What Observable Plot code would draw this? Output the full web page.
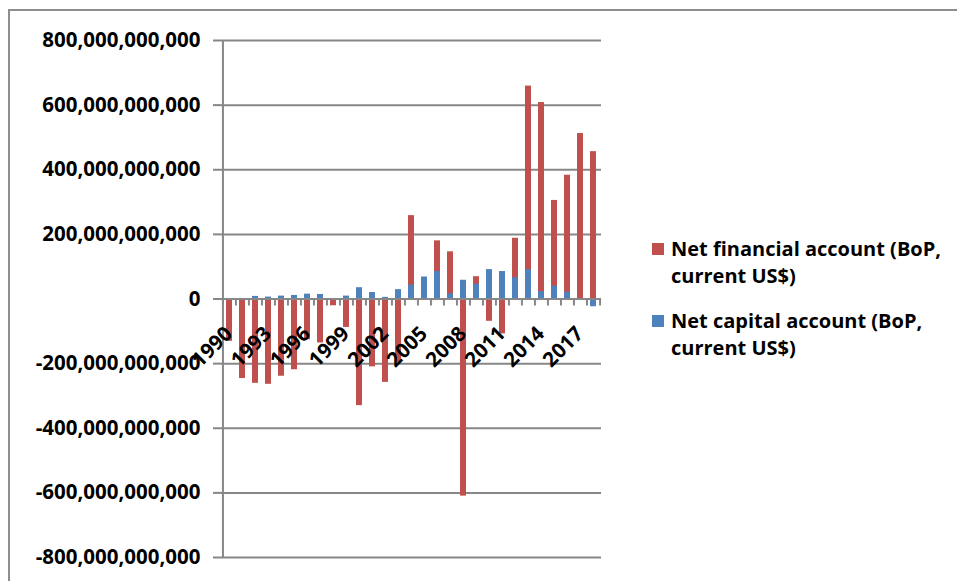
<!DOCTYPE html>
<html>
<head>
<meta charset="utf-8">
<script src="https://cdn.jsdelivr.net/npm/d3@7"></script>
<script src="https://cdn.jsdelivr.net/npm/@observablehq/plot@0.6"></script>
<style>
  body { margin: 0; background: #fff; }
  #wrap { position: relative; width: 957px; height: 581px; overflow: hidden; font-family: "Open Sans", sans-serif; }
  #border { position: absolute; left: 8px; top: 9px; width: 1200px; height: 1200px;
            border-left: 2px solid #8e8e8e; border-top: 2px solid #8e8e8e; }
  #chart { position: absolute; left: 0; top: 0; }
  .swatch { position: absolute; left: 652px; width: 12px; height: 12px; }
  .entry { position: absolute; left: 671px; font-size: 20px; font-weight: 700; line-height: 27.5px; color: #000; white-space: nowrap; }
</style>
</head>
<body>
<div id="wrap">
  <div id="border"></div>
  <div id="chart"></div>
  <div id="legend"></div>
</div>
<script>
// Balance of payments, 1990–2018, in billions of current US$
const years = [1990, 1991, 1992, 1993, 1994, 1995, 1996, 1997, 1998, 1999,
               2000, 2001, 2002, 2003, 2004, 2005, 2006, 2007, 2008, 2009,
               2010, 2011, 2012, 2013, 2014, 2015, 2016, 2017, 2018];

const netFinancialBn = [-131, -246, -261, -264, -239, -219, -126, -136, -21, -88,
                        -330, -210, -258, -196, 258, 30, 180, 146, -610, 69,
                        -69, -108, 188, 659, 608, 305, 383, 512, 456];

const netCapitalBn = [0, 0, 8, 6, 9, 11, 15, 14, 0, 9,
                      35, 20, 5, 29, 43, 68, 85, 16, 58, 46,
                      91, 85, 66, 91, 23, 40, 21, -2, -24];

const yTicks = [-800e9, -600e9, -400e9, -200e9, 0, 200e9, 400e9, 600e9, 800e9];
const xLabelYears = [1990, 1993, 1996, 1999, 2002, 2005, 2008, 2011, 2014, 2017];

const seriesNames = ["Net financial account (BoP, current US$)", "Net capital account (BoP, current US$)"];
const seriesLines = [["Net financial account (BoP,", "current US$)"], ["Net capital account (BoP,", "current US$)"]];
const seriesColors = ["#C0504D", "#4F81BD"];

const financialRows = years.map((year, i) => ({year, value: netFinancialBn[i] * 1e9}));
const capitalRows = years.map((year, i) => ({year, value: netCapitalBn[i] * 1e9}));

const W = 957, H = 581;
const margin = {left: 221, right: 356, top: 40, bottom: 24};
const step = (W - margin.left - margin.right) / years.length;
const gridColor = "#878787";

const chart = Plot.plot({
  width: W,
  height: H,
  marginLeft: margin.left,
  marginRight: margin.right,
  marginTop: margin.top,
  marginBottom: margin.bottom,
  style: {fontFamily: "'Open Sans', sans-serif", background: "transparent", color: "#000", overflow: "visible"},
  x: {domain: years, paddingInner: 0.57, paddingOuter: 0.285, axis: null},
  y: {domain: [-800e9, 800e9], axis: null},
  marks: [
    Plot.gridY(yTicks, {stroke: gridColor, strokeOpacity: 1, strokeWidth: 2}),
    Plot.barY(financialRows, {x: "year", y: "value", fill: seriesColors[0]}),
    Plot.barY(capitalRows, {x: "year", y: "value", fill: seriesColors[1]}),
    Plot.ruleY([0], {stroke: gridColor, strokeWidth: 2}),
    // category boundary ticks under the zero line
    Plot.ruleX(years, {x: d => d, y1: () => 0, y2: () => 0, dx: -step / 2, insetBottom: -7, stroke: gridColor, strokeWidth: 2}),
    Plot.ruleX(years.slice(-1), {x: d => d, y1: () => 0, y2: () => 0, dx: step / 2, insetBottom: -7, stroke: gridColor, strokeWidth: 2}),
    // vertical value axis line
    Plot.ruleX(years.slice(0, 1), {x: d => d, dx: -step / 2, stroke: gridColor, strokeWidth: 2}),
    Plot.axisY(yTicks, {
      label: null,
      tickSize: 8, tickPadding: 13, strokeWidth: 2, stroke: gridColor, fill: "#000",
      tickFormat: d => d.toLocaleString("en-US"),
      fontSize: 20.5, fontWeight: 700
    }),
    Plot.text(xLabelYears, {
      x: d => d, y: () => 0, text: d => String(d),
      rotate: -45, textAnchor: "end", lineAnchor: "bottom",
      dx: 4, dy: 36, fontSize: 20.5, fontWeight: 700, fill: "#000"
    })
  ]
});
document.getElementById("chart").appendChild(chart);

// legend to the right of the plot
const legend = document.getElementById("legend");
const entryTops = [234.5, 306.8];
const swatchTops = [243, 315];
seriesNames.forEach((name, i) => {
  const sw = document.createElement("div");
  sw.className = "swatch";
  sw.style.top = swatchTops[i] + "px";
  sw.style.background = seriesColors[i];
  sw.title = name;
  legend.appendChild(sw);
  const tx = document.createElement("div");
  tx.className = "entry";
  tx.style.top = entryTops[i] + "px";
  tx.innerHTML = seriesLines[i].join("<br>");
  legend.appendChild(tx);
});
</script>
</body>
</html>
